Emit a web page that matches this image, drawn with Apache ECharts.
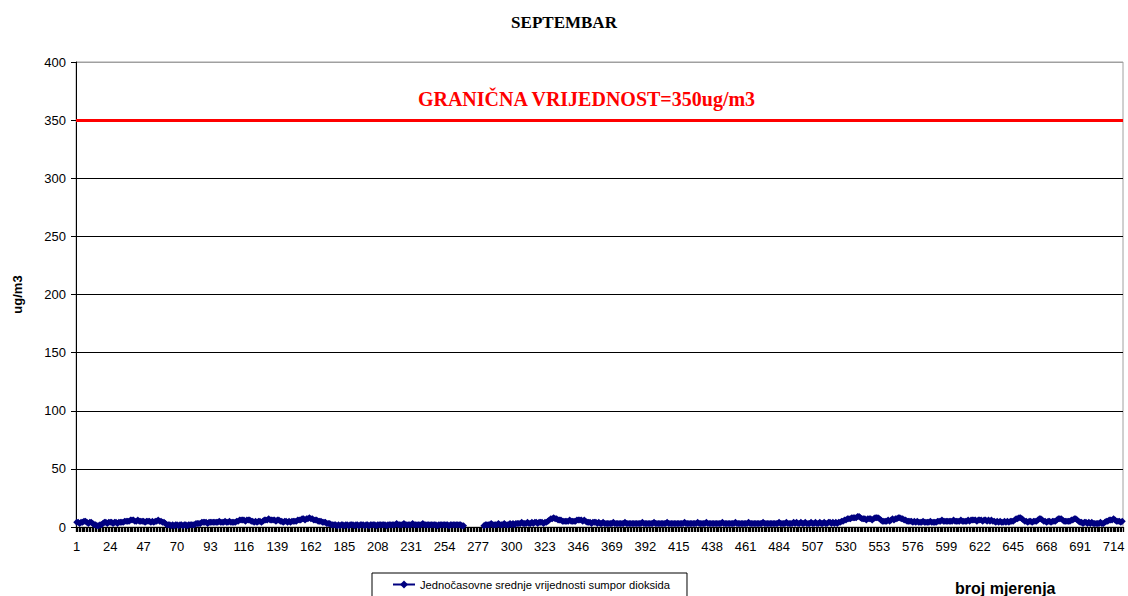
<!DOCTYPE html>
<html>
<head>
<meta charset="utf-8">
<script src="https://cdn.jsdelivr.net/npm/echarts@6/dist/echarts.min.js"></script>
<style>
html,body{margin:0;padding:0;background:#fff;}
#chart{width:1128px;height:596px;}
</style>
</head>
<body>
<div id="chart"></div>
<script>
// ---- data ----
const chartTitle = 'SEPTEMBAR';
const seriesName = 'Jednočasovne srednje vrijednosti sumpor dioksida';
const xAxisName = 'broj mjerenja';
const yAxisName = 'ug/m3';
const limitValue = 350;
const limitLabel = 'GRANIČNA VRIJEDNOST=350ug/m3';
const yMin = 0, yMax = 400, yStep = 50;
const xLabelStep = 23;
// hourly SO2 values (30 days x 24 h)
const so2Values = [
  4,4,3,4,4,5,5,4,3,4,4,3,2,2,1,1,2,2,3,4,4,3,4,4,
  4,3,4,4,3,4,4,4,4,5,5,5,5,6,6,6,5,5,6,5,5,5,5,4,
  5,5,5,4,5,4,5,5,6,5,5,4,4,3,2,2,2,1,2,1,2,2,1,2,
  2,1,2,2,1,2,2,2,2,2,3,3,3,3,4,4,4,4,3,4,4,4,4,4,
  4,4,5,4,4,4,5,4,4,5,4,4,4,4,5,5,6,6,6,6,5,6,6,6,
  5,5,4,5,4,5,5,4,5,6,6,6,7,6,6,6,6,5,6,6,5,5,4,5,
  5,4,5,4,5,5,5,5,6,6,6,7,7,6,7,7,8,7,7,6,6,6,5,5,
  5,4,4,4,3,3,3,2,2,2,2,1,2,1,2,2,1,2,2,1,2,2,2,1,
  2,2,1,2,2,2,1,2,2,1,2,2,2,2,1,2,2,2,2,2,2,1,2,2,
  2,2,2,2,3,2,2,2,2,3,2,2,2,2,2,3,2,2,2,2,2,2,3,2,
  2,2,2,2,2,2,2,2,1,2,2,2,2,2,2,2,1,2,2,2,2,2,2,2,
  2,1,1,null,null,null,null,null,null,null,null,null,null,null,null,null,1,2,2,2,2,3,2,2,
  2,2,3,2,2,2,3,2,2,2,3,2,3,2,3,3,3,3,4,3,3,3,4,3,
  3,4,3,4,4,3,4,4,4,3,4,4,5,6,7,7,8,7,7,6,6,6,5,5,
  5,5,5,6,5,5,5,5,6,6,6,6,5,6,5,4,4,4,3,4,4,4,3,4,
  3,3,4,3,3,3,3,3,3,4,3,3,3,3,3,3,3,4,3,3,3,3,3,3,
  3,3,3,3,3,4,3,3,3,3,3,3,3,4,3,3,3,3,3,3,3,3,4,3,
  3,3,3,3,3,3,3,3,3,3,4,3,3,3,3,3,3,3,3,4,3,3,3,3,
  3,4,3,3,3,3,3,3,3,3,3,3,4,3,3,3,3,3,3,3,3,4,3,3,
  3,3,3,3,3,3,4,3,3,3,3,3,3,3,3,3,4,3,3,3,3,3,3,3,
  3,3,3,4,3,3,3,3,4,3,3,3,3,4,3,4,3,3,4,3,3,4,3,3,
  3,4,3,3,4,3,3,4,3,3,4,3,3,4,4,3,4,3,4,3,4,4,5,5,
  6,6,7,7,7,8,8,8,8,9,9,8,7,7,7,6,7,7,7,6,7,8,8,8,
  7,6,5,5,5,5,6,5,6,7,6,7,7,8,8,7,7,6,6,5,5,5,5,4,
  5,4,5,4,4,4,5,4,4,4,4,5,4,4,4,4,5,5,5,6,5,5,5,5,
  5,5,5,6,5,5,5,5,6,5,5,5,5,6,5,6,6,6,6,5,6,6,6,5,
  6,6,5,6,5,6,5,5,4,5,4,5,4,4,5,4,5,4,5,5,5,6,7,7,
  8,8,7,6,5,5,4,5,5,4,5,5,5,6,7,7,6,5,5,4,5,5,4,5,
  5,5,6,7,7,7,6,5,5,5,5,5,6,6,7,7,6,5,4,4,3,4,4,3,
  4,3,4,3,3,3,3,3,4,3,3,4,5,5,6,6,6,7,6,5,5,5,4,5
];
const categories = so2Values.map((v, i) => String(i + 1));

const chart = echarts.init(document.getElementById('chart'), null, {renderer: 'svg'});
const nGrid = (yMax - yMin) / yStep;
const splitColors = [];
for (let k = 0; k < nGrid; k++) splitColors.push('#000000');
splitColors.push('#a0a0a0');

chart.setOption({
  animation: false,
  backgroundColor: '#ffffff',
  title: {
    text: chartTitle,
    left: 'center',
    top: 9,
    textStyle: {fontFamily: 'Liberation Serif', fontWeight: 'bold', fontSize: 17, color: '#000'}
  },
  legend: {
    data: [seriesName],
    left: 372,
    top: 573,
    padding: [6, 17, 30, 20],
    itemWidth: 22,
    itemHeight: 10,
    itemGap: 5,
    borderColor: '#000',
    borderWidth: 1,
    textStyle: {fontFamily: 'Liberation Sans', fontSize: 11.2, color: '#000'}
  },
  graphic: [{
    type: 'text',
    left: 955,
    top: 580,
    style: {text: xAxisName, fontFamily: 'Liberation Sans', fontWeight: 'bold', fontSize: 16, fill: '#000'}
  }],
  grid: {left: 76, right: 5, top: 62, bottom: 69, containLabel: false, outerBoundsMode: 'none',
         show: true, borderColor: '#a0a0a0', borderWidth: 1},
  xAxis: {
    type: 'category',
    data: categories,
    boundaryGap: true,
    axisLine: {lineStyle: {color: '#000', width: 1}},
    axisTick: {show: true, interval: 0, length: 5, lineStyle: {color: '#000', width: 1.3}},
    axisLabel: {interval: xLabelStep - 1, margin: 13, fontFamily: 'Liberation Sans', fontSize: 13, color: '#000', hideOverlap: false},
    splitLine: {show: false}
  },
  yAxis: {
    type: 'value',
    min: yMin, max: yMax, interval: yStep,
    name: yAxisName,
    nameLocation: 'middle',
    nameGap: 52,
    nameRotate: 90,
    nameTextStyle: {fontFamily: 'Liberation Sans', fontWeight: 'bold', fontSize: 13, color: '#000'},
    axisLine: {show: true, lineStyle: {color: '#000', width: 1}},
    axisTick: {show: true, length: 5, lineStyle: {color: '#000'}},
    axisLabel: {margin: 10, fontFamily: 'Liberation Sans', fontSize: 13, color: '#000'},
    splitLine: {show: true, lineStyle: {color: splitColors, width: 1}}
  },
  series: [{
    name: seriesName,
    type: 'line',
    data: so2Values,
    connectNulls: false,
    symbol: 'diamond',
    symbolSize: 7,
    showAllSymbol: true,
    itemStyle: {color: '#000080'},
    lineStyle: {color: '#000080', width: 2},
    markLine: {
      silent: true,
      symbol: ['none', 'none'],
      data: [{yAxis: limitValue}],
      lineStyle: {color: '#ff0000', width: 3, type: 'solid'},
      label: {
        show: true,
        position: 'insideMiddleTop',
        distance: 11,
        formatter: limitLabel,
        padding: [0, 26, 0, 0],
        fontFamily: 'Liberation Serif',
        fontWeight: 'bold',
        fontSize: 20,
        color: '#ff0000'
      },
      emphasis: {disabled: true}
    }
  }]
});
</script>
</body>
</html>
